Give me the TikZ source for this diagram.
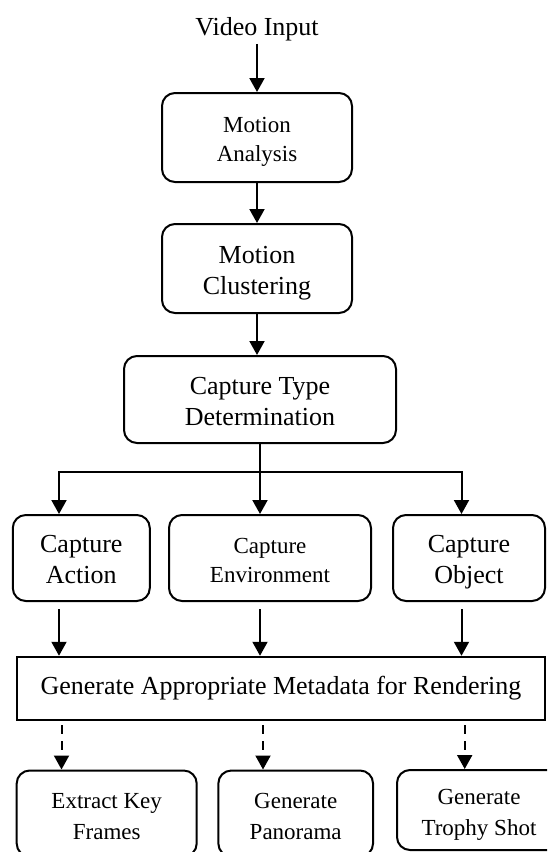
\documentclass[tikz,border=0pt]{standalone}
\usepackage{fontspec}
\setmainfont{Liberation Serif}
\usetikzlibrary{arrows.meta}
\newcommand{\tstrut}{\rule{0pt}{\dimexpr0.7\baselineskip+8pt\relax}}
\begin{document}
\begin{tikzpicture}[x=1pt,y=-1pt,
  box/.style={draw, line width=2pt, rounded corners=13pt, align=center, inner sep=0pt},
  sqbox/.style={draw, line width=2pt, align=center, inner sep=0pt},
  big/.style={font=\fontsize{26}{31}\selectfont},
  small/.style={font=\fontsize{23}{29}\selectfont},
  smallb/.style={font=\fontsize{23}{31}\selectfont},
  arr/.style={line width=2pt, -{Triangle[length=14pt,width=15pt]}},
  darr/.style={arr, dash pattern=on 9pt off 7pt}]
\useasboundingbox (0,0) rectangle (547,852);
\clip (0,0) rectangle (547,852);

\node[big, inner sep=3pt] (vin) at (257,29) {Video Input};
\node[box, small, minimum width=190pt, minimum height=89pt] (ma) at (257,137.5) {\tstrut Motion\\Analysis\strut};
\node[box, big, minimum width=190pt, minimum height=89pt] (mc) at (257,268.5) {\tstrut Motion\\Clustering\strut};
\node[box, big, minimum width=272pt, minimum height=87pt] (ct) at (260,399.5) {\tstrut Capture Type\\Determination\strut};

\node[box, big, minimum width=137pt, minimum height=86pt] (ca) at (81.3,558) {\tstrut Capture\\Action\strut};
\node[box, small, minimum width=202pt, minimum height=86pt] (ce) at (270,558) {\tstrut Capture\\Environment\strut};
\node[box, big, minimum width=152pt, minimum height=86pt] (co) at (469,558) {\tstrut Capture\\Object\strut};

\node[sqbox, big, minimum width=527.4pt, minimum height=63.3pt] (gen) at (281,688.4) {Generate Appropriate Metadata for Rendering};

\node[box, smallb, minimum width=180pt, minimum height=86pt] (ek) at (106.7,813.5) {\tstrut Extract Key\\Frames\strut};
\node[box, smallb, minimum width=154.7pt, minimum height=86pt] (gp) at (295.7,813.5) {\tstrut Generate\\Panorama\strut};
\node[box, smallb, minimum width=164pt, minimum height=80pt] (gt) at (479,810) {\tstrut Generate\\Trophy Shot\strut};

\coordinate (j) at (260,471.5);
\coordinate (c1) at (59,471.5);
\coordinate (c3) at (461.5,471.5);
\coordinate (d1) at (61.5,0);
\coordinate (d2) at (263,0);
\coordinate (d3) at (464.7,0);

\draw[arr] (vin.south) -- (ma.north);
\draw[arr] (ma.south) -- (mc.north);
\draw[arr] (mc.south) -- (mc.south |- ct.north);
\draw[arr] (j |- ct.south) -- (j |- ce.north);
\draw[arr] (j) -- (c1) -- (c1 |- ca.north);
\draw[arr] (j) -- (c3) -- (c3 |- co.north);

\draw[arr, shorten <=7pt] (c1 |- ca.south) -- (c1 |- gen.north);
\draw[arr, shorten <=7pt] (j |- ce.south) -- (j |- gen.north);
\draw[arr, shorten <=7pt] (c3 |- co.south) -- (c3 |- gen.north);

\draw[darr, shorten <=4pt] (d1 |- gen.south) -- (d1 |- ek.north);
\draw[darr, shorten <=4pt] (d2 |- gen.south) -- (d2 |- gp.north);
\draw[darr, shorten <=4pt] (d3 |- gen.south) -- (d3 |- gt.north);
\end{tikzpicture}
\end{document}
